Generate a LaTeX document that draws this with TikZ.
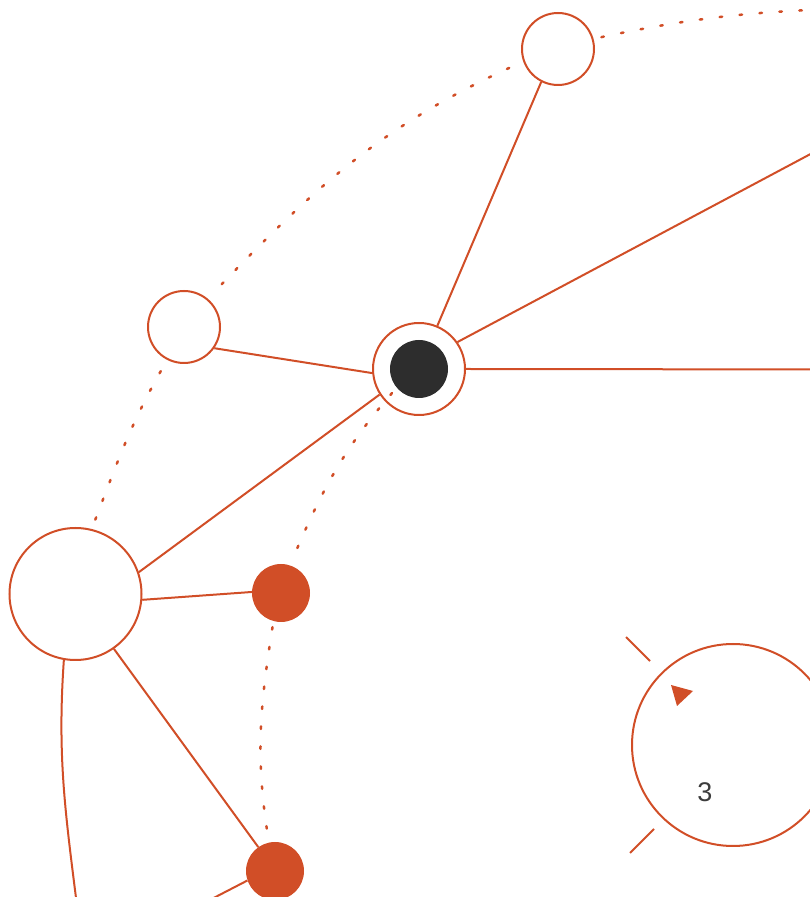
\documentclass[tikz,border=0pt]{standalone}
\usepackage{fontspec}
\setmainfont{Liberation Sans}
\definecolor{org}{HTML}{D14E27}
\definecolor{darkdisk}{HTML}{2D2D2D}
\definecolor{textgray}{HTML}{3C3C3C}
\begin{document}
\begin{tikzpicture}[x=1pt,y=1pt,
  ring/.style={circle,draw=org,line width=2pt,inner sep=0pt},
  fdot/.style={circle,fill=org,inner sep=0pt,minimum size=58pt},
  edge/.style={draw=org,line width=2pt},
  dotline/.style={draw=org,line width=2.5pt,line cap=round,dash pattern=on 2.5pt off 17.5pt}]
\useasboundingbox (0,0) rectangle (809,897);
% nodes
\node[ring,minimum size=72pt] (T) at (558,848) {};
\node[ring,minimum size=72pt] (U) at (184,570) {};
\node[ring,minimum size=92pt] (C) at (419,528) {};
\node[circle,fill=darkdisk,inner sep=0pt,minimum size=58pt] (Ci) at (419,528) {};
\node[ring,minimum size=132pt] (L) at (75.5,303) {};
\node[fdot] (F1) at (281,304) {};
\node[fdot] (F2) at (275,26) {};
\node[ring,minimum size=202pt] (R) at (733,152) {};
\node[text=textgray,font=\fontsize{27}{32}\selectfont,inner sep=0pt] (n3) at (705,105) {3};
% off-canvas ends
\coordinate (E2) at (850,764);
\coordinate (E3) at (850,527.5);
\coordinate (E4) at (175,-21);
\coordinate (E5) at (79,-25);
\coordinate (E6) at (880,889);
\coordinate (k1) at (626,260);
\coordinate (k2) at (650,236);
\coordinate (k3) at (630,44);
\coordinate (k4) at (654,68);
% solid edges
\draw[edge] (C.67) -- (T.243);
\draw[edge] (C.35) -- (E2);
\draw[edge] (C.0) -- (E3);
\draw[edge] (C.185) -- (U.325);
\draw[edge] (C.213) -- (L.19);
\draw[edge] (L.355) -- (F1.178);
\draw[edge] (L.305) -- (F2.125);
\draw[edge] (F2.199) -- (E4);
\draw[edge] (L.260) to[out=266,in=97] (E5);
% ticks and marker
\draw[edge] (k1) -- (k2);
\draw[edge] (k3) -- (k4);
\fill[org] (671,212) -- (693,206) -- (677,191) -- cycle;
% dotted curves
\draw[dotline,shorten <=10pt,shorten >=6pt] (L.76) to[out=69,in=240] (U.243);
\draw[dotline,shorten <=20pt,shorten >=6pt] (U.50) to[out=46,in=204] (T.200);
\draw[dotline,shorten <=8pt] (T.16) to[out=12,in=181] (E6);
\draw[dotline,shorten <=7pt,shorten >=10pt] (Ci.220) to[out=229,in=67] (F1.72);
\draw[dotline,shorten <=6pt,shorten >=6pt] (F1.255) to[out=261,in=99] (F2.102);
\end{tikzpicture}
\end{document}
